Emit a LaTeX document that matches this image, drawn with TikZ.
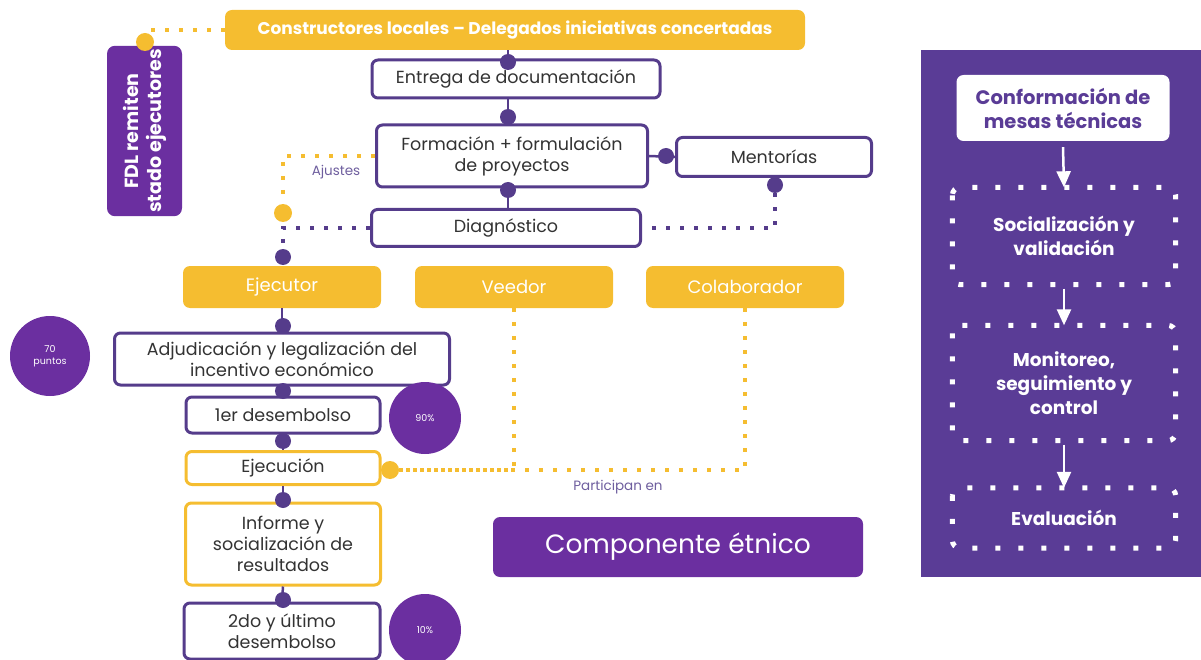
\documentclass[tikz,border=0pt]{standalone}
\usepackage{fontspec}
\setmainfont{Poppins}
\usetikzlibrary{arrows.meta}
\definecolor{yel}{HTML}{F5BD30}
\definecolor{pur}{HTML}{553C8B}
\definecolor{panel}{HTML}{5A3C96}
\definecolor{circ}{HTML}{6B2FA0}
\definecolor{txt}{HTML}{333333}
\definecolor{lab}{HTML}{6E5E9E}
\tikzset{
  wbox/.style={draw=pur, line width=3pt, fill=white, rounded corners=6pt, text=txt, font=\fontsize{17.5}{21}\selectfont, align=center, inner sep=2pt},
  ybox/.style={wbox, draw=yel},
  yfill/.style={fill=yel, rounded corners=7pt, text=white, font=\fontsize{18}{21}\selectfont, align=center},
  dotp/.style={circle, fill=pur, minimum size=16pt, inner sep=0pt},
  doty/.style={circle, fill=yel, minimum size=18pt, inner sep=0pt},
  conn/.style={draw=pur, line width=2.5pt},
  pdots/.style={draw=pur, line width=4pt, dash pattern=on 4pt off 10pt},
  ydots/.style={draw=yel, line width=4pt, dash pattern=on 4pt off 10pt},
  wdots/.style={draw=white, line width=5pt, dash pattern=on 5pt off 18pt, rounded corners=8pt},
  bigc/.style={circle, fill=circ, text=white, inner sep=0pt, align=center, font=\fontsize{9.5}{11.5}\selectfont},
  warrow/.style={draw=white, line width=2.5pt, -{Triangle[width=14pt,length=16pt]}},
  lbl/.style={text=lab, font=\fontsize{13.5}{16}\selectfont},
  ptext/.style={text=white, align=center, font=\bfseries\fontsize{18.5}{24}\selectfont}
}
\begin{document}
\begin{tikzpicture}[x=1pt,y=-1pt]
\useasboundingbox (0,0) rectangle (1201,660);
% top
\node[yfill, font=\bfseries\fontsize{17}{20}\selectfont, minimum width=580pt, minimum height=40pt] (top) at (515,30) {Constructores locales – Delegados iniciativas concertadas};
\node[fill=circ, rounded corners=8pt, rotate=90, minimum width=158pt, minimum height=75pt, text=white, align=center, font=\bfseries\fontsize{19}{23}\selectfont] (fdl) at (144.5,131) {FDL remiten\\stado ejecutores};
\node[doty] (fdot) at (145,42) {};
\draw[ydots] (top.west) -| (fdot.north);

\node[wbox, minimum width=288pt, minimum height=38pt] (entr) at (516,79) {Entrega de documentación};
\node[wbox, minimum width=271pt, minimum height=62pt] (form) at (512,156) {Formación + formulación\\de proyectos};
\node[wbox, minimum width=269pt, minimum height=37pt] (diag) at (506,228) {Diagnóstico};
\node[wbox, minimum width=195pt, minimum height=39pt] (ment) at (774,157) {Mentorías};

\coordinate (c1) at (508,62);
\draw[conn] (top.south -| c1) -- (entr.north -| c1);
\node[dotp] (d1) at (c1) {};
\draw[conn] (entr.south -| d1) -- (form.north -| d1);
\node[dotp] (d2) at (508,117) {};
\node[dotp] (d3) at (508,190) {};
\draw[conn] (form.south -| d3) -- (diag.north -| d3);
\draw[conn] (form.east) -- (ment.west);
\node[dotp] (d4) at (666,156) {};
\node[dotp] (d5) at (775,185) {};
\draw[pdots] (d5.south) |- (diag.east);

% ajustes
\node[doty] (ya) at (283,213) {};
\draw[ydots] (form.west) -| (ya.north);
\node[lbl] (aj) at (336,172) {Ajustes};
\node[dotp] (d6) at (283,257) {};
\draw[pdots] (diag.west) -| (d6.north);

% roles
\node[yfill, minimum width=198pt, minimum height=42pt] (ejec) at (282,287) {Ejecutor};
\node[yfill, minimum width=198pt, minimum height=42pt] (veed) at (514,287) {Veedor};
\node[yfill, minimum width=198pt, minimum height=42pt] (colab) at (745,287) {Colaborador};

\node[wbox, minimum width=335pt, minimum height=52pt] (adj) at (282,359) {Adjudicación y legalización del\\incentivo económico};
\draw[conn] (ejec.south) -- (adj.north);
\node[dotp] (d7) at (283,326) {};
\node[bigc, minimum size=80pt] (p70) at (50,356) {70\\puntos};

\node[wbox, minimum width=194pt, minimum height=36pt] (des1) at (283,415) {1er desembolso};
\draw[conn] (adj.south) -- (des1.north);
\node[dotp] (d8) at (283,391) {};
\node[bigc, minimum size=72pt] (p90) at (425,418) {90\%};

\node[ybox, minimum width=194pt, minimum height=33pt] (ejc) at (283,468) {Ejecución};
\draw[conn] (des1.south) -- (ejc.north);
\node[dotp] (d9) at (283,441) {};

\node[ybox, minimum width=195pt, minimum height=82pt] (inf) at (283,544) {Informe y\\socialización de\\resultados};
\draw[conn] (ejc.south) -- (inf.north);
\node[dotp] (d10) at (283,500) {};

\node[wbox, minimum width=196pt, minimum height=56pt] (des2) at (282,631) {2do y último\\desembolso};
\draw[conn] (inf.south) -- (des2.north);
\node[dotp] (d11) at (283,600) {};
\node[bigc, minimum size=72pt] (p10) at (425,630) {10\%};

% participan
\node[doty] (ye) at (390,470) {};
\draw[ydots] (veed.south) |- (ye.east);
\draw[ydots] (colab.south) |- (ye.east);
\node[lbl] (part) at (618,487) {Participan en};

\node[fill=circ, rounded corners=7pt, minimum width=370pt, minimum height=60pt, text=white, font=\fontsize{26.5}{30}\selectfont] (etn) at (678,547) {Componente étnico};

% right panel
\node[fill=panel, minimum width=280pt, minimum height=527pt, inner sep=0pt] (pan) at (1061,313.5) {};
\node[fill=white, rounded corners=7pt, minimum width=213pt, minimum height=66pt, text=panel, align=center, font=\bfseries\fontsize{19.5}{24}\selectfont] (conf) at (1063,108) {Conformación de\\mesas técnicas};
\node[ptext, minimum width=223pt, minimum height=97pt] (soc) at (1064,236) {Socialización y\\validación};
\draw[wdots] (soc.north west) rectangle (soc.south east);
\node[ptext, minimum width=223pt, minimum height=115pt] (mon) at (1064,383) {Monitoreo,\\seguimiento y\\control};
\draw[wdots] (mon.north west) rectangle (mon.south east);
\node[ptext, minimum width=223pt, minimum height=60pt] (eva) at (1064,518) {Evaluación};
\draw[wdots] (eva.north west) rectangle (eva.south east);
\draw[warrow] (conf.south) ++(0,6) -- (soc.north);
\draw[warrow] (soc.south) ++(0,4) -- (mon.north);
\draw[warrow] (mon.south) ++(0,4) -- (eva.north);
\end{tikzpicture}
\end{document}
